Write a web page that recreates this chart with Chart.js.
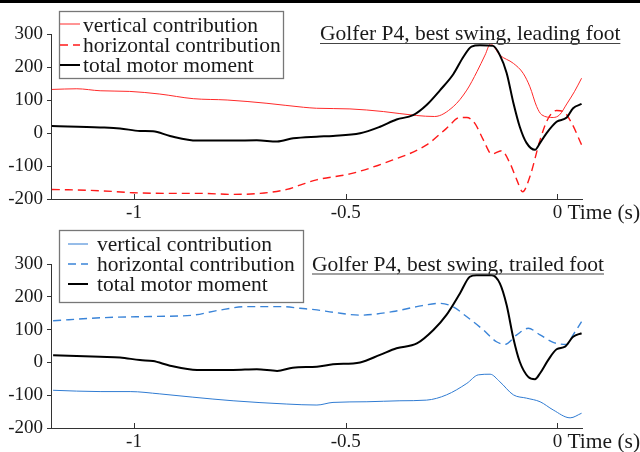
<!DOCTYPE html>
<html>
<head>
<meta charset="utf-8">
<script src="https://cdn.jsdelivr.net/npm/chart.js@4.4.0/dist/chart.umd.min.js"></script>
<style>
  body { margin: 0; background: #fff; }
  #wrap { position: relative; width: 640px; height: 452px; overflow: hidden; }
  #bar { position: absolute; left: 0; top: 0; width: 640px; height: 3px; background: #000; }
  canvas { position: absolute; left: 0; }
  #lead { top: 0; }
  #trail { top: 226px; }
</style>
</head>
<body>
<div id="wrap">
  <canvas id="lead" width="640" height="226"></canvas>
  <canvas id="trail" width="640" height="226"></canvas>
  <div id="bar"></div>
</div>
<script>
// axis ticks
const timeTicks = [-1, -0.5, 0];
const momentTicks = [-200, -100, 0, 100, 200, 300];

// leading foot
const leadTotalTime = [-1.194, -1.08, -1.033, -0.986, -0.955, -0.915, -0.851, -0.766, -0.71, -0.662, -0.624, -0.569, -0.53, -0.466, -0.419, -0.38, -0.341, -0.309, -0.277, -0.246, -0.222, -0.203, -0.183, -0.152, -0.136, -0.12, -0.104, -0.089, -0.073, -0.053, -0.041, -0.026, -0.002, 0.022, 0.037, 0.057];
const leadTotal = [21, 17, 14, 6, 5, -9, -23, -23, -22, -26, -16, -11, -9, -1, 19, 41, 54, 85, 130, 178, 231, 262, 266, 264, 236, 182, 91, 19, -30, -51, -30, -1, 34, 47, 75, 88];
const leadVertTime = [-1.194, -1.135, -1.08, -1.01, -0.939, -0.86, -0.78, -0.686, -0.6, -0.569, -0.49, -0.411, -0.333, -0.29, -0.246, -0.214, -0.19, -0.171, -0.158, -0.136, -0.104, -0.081, -0.065, -0.049, -0.037, -0.01, 0.005, 0.022, 0.04, 0.057];
const leadVert = [132, 134, 128, 126, 118, 104, 100, 90, 78, 75, 73, 65, 53, 50, 80, 130, 186, 236, 270, 236, 211, 181, 140, 80, 55, 47, 55, 88, 125, 166];
const leadHorizTime = [-1.194, -1.08, -1.002, -0.922, -0.844, -0.766, -0.702, -0.639, -0.608, -0.569, -0.49, -0.411, -0.309, -0.262, -0.23, -0.214, -0.195, -0.175, -0.155, -0.132, -0.112, -0.096, -0.082, -0.065, -0.041, -0.022, -0.002, 0.014, 0.034, 0.057];
const leadHoriz = [-171, -175, -181, -183, -183, -186, -183, -171, -158, -142, -124, -92, -36, 14, 47, 47, 29, -21, -64, -54, -92, -142, -178, -132, -21, 44, 68, 65, 29, -36];

// trailing foot
const trailTotalTime = [-1.191, -1.08, -1.033, -0.986, -0.955, -0.915, -0.851, -0.766, -0.71, -0.662, -0.625, -0.568, -0.53, -0.466, -0.419, -0.38, -0.332, -0.293, -0.262, -0.23, -0.207, -0.191, -0.155, -0.136, -0.12, -0.104, -0.089, -0.069, -0.053, -0.041, -0.022, -0.002, 0.018, 0.037, 0.057];
const trailTotal = [22, 17, 15, 7, 4, -10, -23, -23, -21, -26, -16, -13, -6, 0, 23, 43, 58, 99, 145, 211, 261, 266, 266, 241, 175, 73, 2, -44, -51, -33, 7, 40, 48, 78, 89];
const trailVertTime = [-1.191, -1.08, -1.009, -0.939, -0.861, -0.766, -0.639, -0.568, -0.53, -0.45, -0.372, -0.309, -0.262, -0.214, -0.187, -0.159, -0.136, -0.104, -0.073, -0.041, -0.01, 0.03, 0.057];
const trailVert = [-85, -89, -89, -96, -106, -117, -127, -130, -122, -120, -117, -115, -99, -64, -38, -36, -59, -99, -109, -120, -145, -169, -155];
const trailHorizTime = [-1.191, -1.08, -0.962, -0.861, -0.804, -0.733, -0.648, -0.608, -0.568, -0.53, -0.466, -0.388, -0.332, -0.277, -0.247, -0.214, -0.175, -0.144, -0.124, -0.096, -0.069, -0.041, -0.01, 0.022, 0.037, 0.057];
const trailHoriz = [127, 136, 140, 144, 158, 170, 170, 165, 160, 153, 144, 155, 170, 180, 170, 139, 99, 63, 55, 84, 104, 84, 61, 55, 84, 124];

const serif = "'Liberation Serif', 'Times New Roman', serif";
const ink = '#1a1a1a';

const pts = (t, v) => t.map((x, i) => ({ x: x, y: v[i] }));

function line(label, t, v, color, width, dash, order) {
  return {
    label: label,
    data: pts(t, v),
    borderColor: color,
    borderWidth: width,
    borderDash: dash,
    order: order,
    fill: false
  };
}

// title, legend box and "Time (s)" drawn on top of each panel
function deco(d) {
  return {
    id: 'deco',
    afterDraw(chart) {
      const ctx = chart.ctx;
      const area = chart.chartArea;
      const x = chart.scales.x;
      ctx.save();

      // tick marks on the time axis point inwards
      ctx.strokeStyle = '#333';
      ctx.lineWidth = 1;
      timeTicks.forEach(v => {
        const px = Math.round(x.getPixelForValue(v)) + 0.5;
        ctx.beginPath();
        ctx.moveTo(px, area.bottom);
        ctx.lineTo(px, area.bottom - 5);
        ctx.stroke();
      });

      ctx.fillStyle = ink;
      ctx.textBaseline = 'alphabetic';
      ctx.textAlign = 'left';
      ctx.font = '21.5px ' + serif;
      ctx.fillText('Time (s)', x.getPixelForValue(0) + 10, d.unitY);

      // underlined title
      ctx.fillText(d.title, d.titleX, d.titleY);
      const w = ctx.measureText(d.title).width;
      ctx.strokeStyle = '#444';
      ctx.lineWidth = 1.2;
      ctx.beginPath();
      ctx.moveTo(d.titleX, d.titleY + 3.5);
      ctx.lineTo(d.titleX + w, d.titleY + 3.5);
      ctx.stroke();

      // legend
      const b = d.box;
      ctx.fillStyle = '#fff';
      ctx.fillRect(b[0], b[1], b[2], b[3]);
      ctx.strokeStyle = '#777';
      ctx.lineWidth = 1.3;
      ctx.strokeRect(b[0] + 0.5, b[1] + 0.5, b[2], b[3]);
      ctx.fillStyle = ink;
      chart.data.datasets.forEach((ds, i) => {
        ctx.strokeStyle = ds.borderColor;
        ctx.lineWidth = ds.borderWidth;
        ctx.setLineDash(ds.borderDash || []);
        ctx.beginPath();
        ctx.moveTo(d.keyX[0], d.keyY[i]);
        ctx.lineTo(d.keyX[1], d.keyY[i]);
        ctx.stroke();
        ctx.setLineDash([]);
        ctx.fillText(ds.label, d.textX, d.textY[i]);
      });
      ctx.restore();
    }
  };
}

function makeChart(id, sets, d) {
  return new Chart(document.getElementById(id), {
    type: 'line',
    data: { datasets: sets },
    options: {
      responsive: false,
      animation: false,
      devicePixelRatio: 1,
      layout: { padding: { top: d.top, right: 58, left: 0, bottom: 0 } },
      elements: { point: { radius: 0 }, line: { cubicInterpolationMode: 'monotone' } },
      plugins: { legend: { display: false }, tooltip: { enabled: false } },
      scales: {
        x: {
          type: 'linear',
          min: -1.196,
          max: 0.058,
          afterFit: s => { s.height = 226 - d.bottom; },
          afterBuildTicks: s => { s.ticks = timeTicks.map(v => ({ value: v })); },
          grid: { drawOnChartArea: false, drawTicks: false },
          border: { color: '#333', width: 1 },
          ticks: { padding: 3, maxRotation: 0, color: ink, font: { family: serif, size: 19 }, callback: v => String(v) }
        },
        y: {
          type: 'linear',
          min: -200,
          max: 300,
          afterFit: s => { s.width = 51; },
          afterBuildTicks: s => { s.ticks = momentTicks.map(v => ({ value: v })); },
          grid: { drawOnChartArea: false, tickLength: 4, color: '#333' },
          border: { color: '#333', width: 1 },
          ticks: { padding: 4, color: ink, font: { family: serif, size: 19 }, callback: v => String(v) }
        }
      }
    },
    plugins: [deco(d)]
  });
}

makeChart('lead', [
  line('vertical contribution', leadVertTime, leadVert, '#ff2a2a', 1, [], 1),
  line('horizontal contribution', leadHorizTime, leadHoriz, '#ff1a1a', 1.4, [8, 5], 1),
  line('total motor moment', leadTotalTime, leadTotal, '#000', 2, [], 0)
], {
  top: 34, bottom: 199, unitY: 219,
  title: 'Golfer P4, best swing, leading foot', titleX: 320, titleY: 40,
  box: [59, 11, 224, 67], keyX: [60, 80], keyY: [24, 45, 65], textX: 83, textY: [32, 52, 72]
});

makeChart('trail', [
  line('vertical contribution', trailVertTime, trailVert, '#2f7bd2', 1, [], 1),
  line('horizontal contribution', trailHorizTime, trailHoriz, '#3a84d8', 1.4, [8, 5], 1),
  line('total motor moment', trailTotalTime, trailTotal, '#000', 2, [], 0)
], {
  top: 38, bottom: 202, unitY: 222,
  title: 'Golfer P4, best swing, trailed foot', titleX: 312, titleY: 44.5,
  box: [59, 4, 244, 72], keyX: [68, 88], keyY: [18, 38, 58], textX: 97, textY: [25, 45, 65]
});
</script>
</body>
</html>
